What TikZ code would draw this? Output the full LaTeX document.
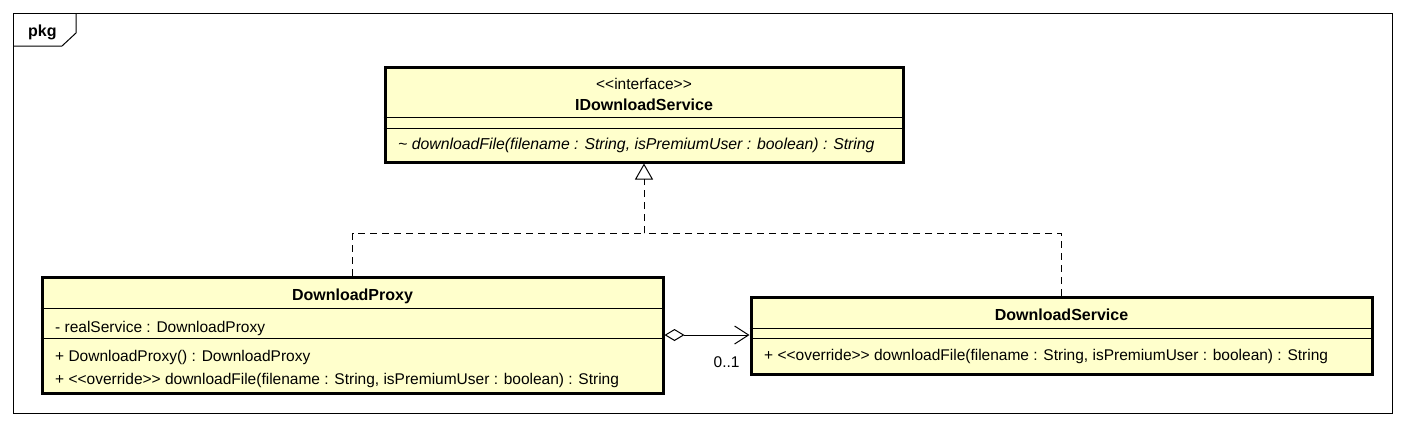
\documentclass[tikz,border=0pt]{standalone}
\usepackage{fontspec}
\usepackage{tikz}
\usetikzlibrary{arrows.meta}
\newfontfamily\umlfont{Liberation Sans}
\definecolor{classfill}{RGB}{255,255,204}
\tikzset{
  classbox/.style={draw=black, line width=3pt, fill=classfill, inner sep=0pt},
  sepline/.style={draw=black, line width=1pt},
  txt/.style={font=\umlfont\fontsize{15.5}{18}\selectfont, inner sep=0pt},
  nametxt/.style={font=\umlfont\bfseries\fontsize{16}{18}\selectfont, inner sep=0pt},
  realize/.style={draw=black, line width=1pt, dash pattern=on 7pt off 5pt},
  aggregate/.style={draw=black, line width=1pt,
    {Diamond[open,length=20pt,width=12pt]}-{Straight Barb[length=14pt,width=18pt]}}
}

\begin{document}
\begin{tikzpicture}[x=1pt,y=-1pt]
\useasboundingbox (0,0) rectangle (1405,426);
\draw[line width=1pt] (13,13) rectangle (1392,413);
\draw[line width=1pt] (13,46) -- (62,46) -- (76,33) -- (76,13);
\node[nametxt, anchor=base west] (pkglabel) at (28,36) {pkg};

\node[classbox, minimum width=518pt, minimum height=95pt] (iface) at (644,114.5) {};
\draw[sepline] (iface.west |- 0,117) -- (iface.east |- 0,117);
\draw[sepline] (iface.west |- 0,128) -- (iface.east |- 0,128);
\node[txt, anchor=base] (ifacestereo) at (644,89) {<<interface>>};
\node[nametxt, anchor=base] (ifacename) at (644,110) {IDownloadService};
\node[txt, anchor=base west, font=\umlfont\itshape\fontsize{15.8}{18}\selectfont] (ifaceop) at (398,149) {\textasciitilde{} downloadFile(filename : String, isPremiumUser : boolean) : String};

\node[classbox, minimum width=621pt, minimum height=116pt] (proxy) at (352.5,335) {};
\draw[sepline] (proxy.west |- 0,308) -- (proxy.east |- 0,308);
\draw[sepline] (proxy.west |- 0,338) -- (proxy.east |- 0,338);
\node[nametxt, anchor=base] (proxyname) at (352.5,300) {DownloadProxy};
\node[txt, anchor=base west] (proxyattr) at (55,332) {- realService : DownloadProxy};
\node[txt, anchor=base west] (proxyctor) at (55,361) {+ DownloadProxy() : DownloadProxy};
\node[txt, anchor=base west] (proxyop) at (55,384) {+ <<override>> downloadFile(filename : String, isPremiumUser : boolean) : String};

\node[classbox, minimum width=621pt, minimum height=77pt] (service) at (1061.5,335.5) {};
\draw[sepline] (service.west |- 0,328) -- (service.east |- 0,328);
\draw[sepline] (service.west |- 0,338) -- (service.east |- 0,338);
\node[nametxt, anchor=base] (servicename) at (1061.5,320) {DownloadService};
\node[txt, anchor=base west] (serviceop) at (764,360) {+ <<override>> downloadFile(filename : String, isPremiumUser : boolean) : String};

\coordinate (join) at (644,233);
\draw[realize] (proxy.north) |- (join);
\draw[realize] (service.north) |- (join);
\draw[realize, -{Triangle[open,length=16pt,width=18pt]}] (join) -- (iface.south);

\draw[aggregate] (proxy.east) -- node[txt, pos=0.73, below=21pt] (mult) {0..1} (proxy.east -| service.west);
\end{tikzpicture}
\end{document}
